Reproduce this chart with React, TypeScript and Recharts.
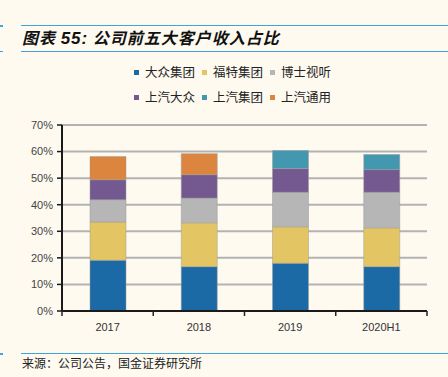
import React from "react";
import { BarChart, Bar, XAxis, YAxis, CartesianGrid } from "recharts";

const categories = ["2017", "2018", "2019", "2020H1"];
const vw = [19.1, 16.7, 18.0, 16.7];
const ford = [14.4, 16.5, 13.7, 14.6];
const bosch = [8.4, 9.3, 13.0, 13.4];
const saicVw = [7.5, 8.8, 8.9, 8.5];
const saic = [null, null, 6.8, 5.7];
const saicGm = [8.7, 7.9, null, null];
const yTicks = [0, 10, 20, 30, 40, 50, 60, 70];

const seriesNames = ["大众集团", "福特集团", "博士视听", "上汽大众", "上汽集团", "上汽通用"];
const seriesKeys = ["vw", "ford", "bosch", "saicVw", "saic", "saicGm"];
const colors = ["#1b6aa5", "#e3c663", "#b6b6b6", "#73598f", "#4398b0", "#dc853e"];

const data = categories.map((c, i) => ({
  name: c,
  vw: vw[i],
  ford: ford[i],
  bosch: bosch[i],
  saicVw: saicVw[i],
  saic: saic[i],
  saicGm: saicGm[i],
}));

const W = 448;
const H = 377;
const margin = { top: 125, right: 21, bottom: 46, left: 22 };
const yAxisW = 40;
const plotW = W - margin.left - margin.right - yAxisW;
const band = plotW / categories.length;

const BG = "#fefaf0";
const LINE = "#3fa3dc";

const XTick = (props: any) => {
  const { x, y, payload, index, visibleTicksCount } = props;
  const last = index === visibleTicksCount - 1;
  return (
    <g>
      <line x1={x - band / 2} x2={x - band / 2} y1={y} y2={y + 5} stroke="#222" strokeWidth={1.5} />
      {last && <line x1={x + band / 2} x2={x + band / 2} y1={y} y2={y + 5} stroke="#222" strokeWidth={1.5} />}
      <text x={x} y={y + 20} textAnchor="middle" fontSize={11} fill="#333" fontFamily="'Liberation Sans', Arial, sans-serif">
        {payload.value}
      </text>
    </g>
  );
};

export default function App() {
  return (
    <div style={{ position: "absolute", left: 0, top: 0, width: W, height: H, background: BG, overflow: "hidden", fontFamily: "'Noto Sans CJK SC', sans-serif" }}>
      <div style={{ position: "absolute", left: 0, top: 25, width: 3, height: 1.5, background: LINE }} />
      <div style={{ position: "absolute", left: 21, top: 24.5, width: W - 21, height: 1.5, background: LINE }} />
      <div style={{ position: "absolute", left: 0, top: 50.5, width: 3, height: 1.5, background: LINE }} />
      <div style={{ position: "absolute", left: 21, top: 50.5, width: W - 21, height: 1.5, background: LINE }} />
      <div style={{ position: "absolute", left: 22, top: 25, height: 24, lineHeight: "24px", fontSize: 16, letterSpacing: 1, fontStyle: "italic", fontWeight: 700, color: "#111", whiteSpace: "nowrap" }}>
        图表 <span style={{ fontFamily: "'Liberation Sans', Arial, sans-serif", fontSize: 17 }}>55:</span> 公司前五大客户收入占比
      </div>
      {seriesNames.map((n, i) => {
        const col = i % 3;
        const row = Math.floor(i / 3);
        const left = 134 + col * 68;
        const top = 72 + row * 25;
        return (
          <div key={n} style={{ position: "absolute", left, top: top - 9, height: 18, display: "flex", alignItems: "center", whiteSpace: "nowrap" }}>
            <div style={{ width: 5, height: 5, background: colors[i], marginRight: 6 }} />
            <span style={{ fontSize: 12.5, color: "#222", lineHeight: "18px" }}>{n}</span>
          </div>
        );
      })}
      <div style={{ position: "absolute", left: 0, top: 353, width: 3, height: 1.5, background: LINE }} />
      <div style={{ position: "absolute", left: 21, top: 352.5, width: W - 21, height: 1.5, background: LINE }} />
      <div style={{ position: "absolute", left: 22, top: 355, height: 16, lineHeight: "16px", fontSize: 12, color: "#222", whiteSpace: "nowrap" }}>
        来源：公司公告，国金证券研究所
      </div>
      <div style={{ position: "absolute", left: 0, top: 0 }}>
        <BarChart width={W} height={H} data={data} margin={margin} barCategoryGap="30%">
          <CartesianGrid vertical={false} stroke="#b3b3b3" strokeWidth={2} />
          <XAxis
            dataKey="name"
            axisLine={{ stroke: "#1a1a1a", strokeWidth: 2 }}
            tickLine={false}
            tickSize={0}
            tickMargin={0}
            tick={<XTick />}
            interval={0}
            height={20}
          />
          <YAxis
            width={yAxisW}
            domain={[0, 70]}
            ticks={yTicks}
            interval={0}
            tickFormatter={(v: number) => `${v}%`}
            axisLine={{ stroke: "#1a1a1a", strokeWidth: 2 }}
            tickLine={{ stroke: "#1a1a1a", strokeWidth: 1.5 }}
            tickSize={5}
            tickMargin={4}
            tick={{ fontSize: 11, fill: "#444", fontFamily: "'Liberation Sans', Arial, sans-serif" }}
          />
          {seriesKeys.map((k, i) => (
            <Bar key={k} dataKey={k} stackId="a" fill={colors[i]} stroke="#9a9a9a" strokeWidth={0.5} isAnimationActive={false} barSize={36} />
          ))}
        </BarChart>
      </div>
    </div>
  );
}
